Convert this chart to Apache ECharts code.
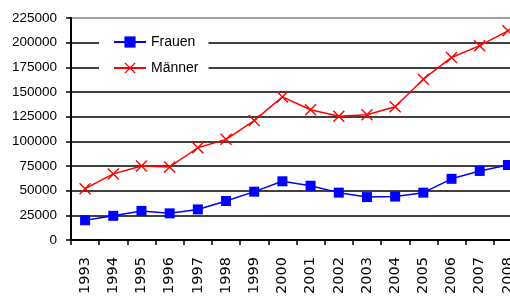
<!DOCTYPE html>
<html>
<head>
<meta charset="utf-8">
<script src="https://cdn.jsdelivr.net/npm/echarts@6/dist/echarts.min.js"></script>
<style>html,body{margin:0;padding:0;background:#fff}#c{width:510px;height:296px}</style>
</head>
<body>
<div id="c"></div>
<script>
var years = ['1993','1994','1995','1996','1997','1998','1999','2000','2001','2002','2003','2004','2005','2006','2007','2008'];
var frauen = [20000, 24500, 29500, 27000, 31000, 39500, 49000, 59500, 55000, 48000, 43500, 44000, 48000, 62000, 70000, 76000];
var maenner = [52000, 67000, 75000, 74000, 93500, 102000, 121000, 145000, 132000, 125500, 127000, 135000, 163000, 185000, 197000, 212000];
var seriesNames = ['Frauen', 'Männer'];

var crossPath = 'path://M0,1L1,0L6,5L11,0L12,1L7,6L12,11L11,12L6,7L1,12L0,11L5,6Z';
var gridColors = ['#000','#000','#000','#000','#000','#000','#000','#000','#000','#808080'];

var chart = echarts.init(document.getElementById('c'), null, {renderer: 'canvas'});
chart.setOption({
  animation: false,
  backgroundColor: '#fff',
  textStyle: {fontFamily: 'Liberation Sans', color: '#000'},
  grid: {left: 71, top: 18, width: 451, height: 222, containLabel: false, outerBoundsMode: 'none'},
  legend: {
    orient: 'vertical',
    left: 99, top: 30,
    padding: [5, 10, 5, 14],
    itemGap: 12,
    itemWidth: 32, itemHeight: 14,
    backgroundColor: '#fff',
    textStyle: {fontFamily: 'Liberation Sans', fontSize: 14, color: '#000'},
    data: seriesNames
  },
  xAxis: {
    type: 'category',
    data: years,
    boundaryGap: true,
    axisLine: {lineStyle: {color: '#000', width: 2}},
    axisTick: {show: true, length: 5, lineStyle: {color: '#000', width: 1.5}},
    axisLabel: {rotate: 90, margin: 17, fontFamily: 'DejaVu Sans', fontSize: 14.5, color: '#000'},
    splitLine: {show: false}
  },
  yAxis: {
    type: 'value',
    min: 0, max: 225000, interval: 25000,
    axisLine: {show: true, lineStyle: {color: '#000', width: 2}},
    axisTick: {show: true, length: 5, lineStyle: {color: '#000', width: 1.5}},
    axisLabel: {margin: 14, fontFamily: 'Liberation Sans', fontSize: 13.5, color: '#000',
      formatter: function (v) { return String(v); }},
    splitLine: {show: true, lineStyle: {color: gridColors, width: 1.5}}
  },
  series: [
    {
      name: seriesNames[0], type: 'line', data: frauen,
      symbol: 'rect', symbolSize: 10,
      lineStyle: {color: '#0000ff', width: 1.5},
      itemStyle: {color: '#0000ff'}
    },
    {
      name: seriesNames[1], type: 'line', data: maenner,
      symbol: crossPath, symbolSize: 12,
      lineStyle: {color: '#ff0000', width: 1.5},
      itemStyle: {color: '#ff0000'}
    }
  ]
});
</script>
</body>
</html>
